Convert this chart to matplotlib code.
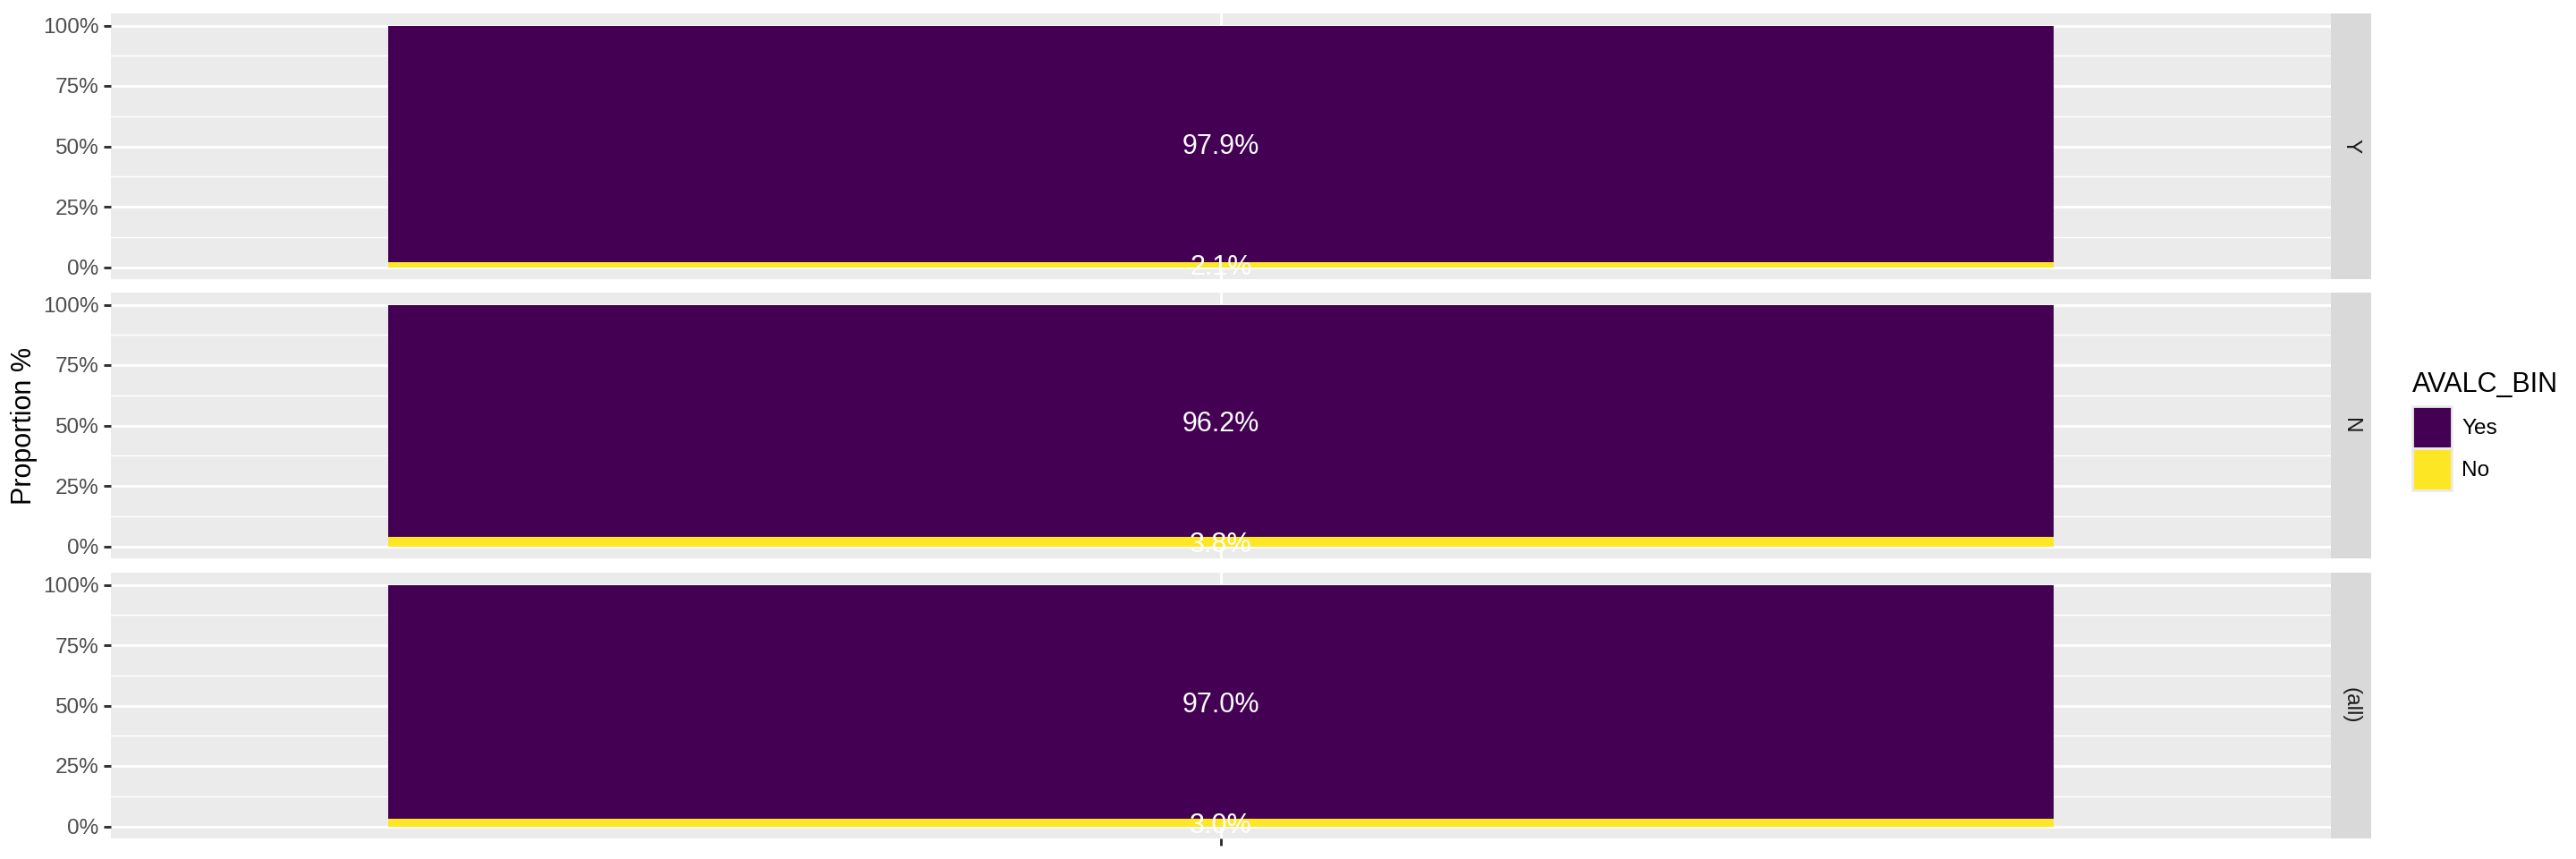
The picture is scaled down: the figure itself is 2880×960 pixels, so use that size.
import matplotlib
matplotlib.use("Agg")
import matplotlib.pyplot as plt
import numpy as np
from matplotlib.patches import Patch

plt.rcParams["font.family"] = ["Liberation Sans", "DejaVu Sans"]

# facet rows and stacked proportions (%)
facets = ["Y", "N", "(all)"]
yes_pct = [97.9, 96.2, 97.0]
no_pct = [2.1, 3.8, 3.0]
categories = [""]
legend_labels = ["Yes", "No"]
y_ticks = [0, 0.25, 0.5, 0.75, 1.0]
y_ticklabels = ["0%", "25%", "50%", "75%", "100%"]

YES_COL = "#440154"
NO_COL = "#FDE725"
PANEL_BG = "#EBEBEB"
STRIP_BG = "#D9D9D9"

W, H = 2880, 960
fig = plt.figure(figsize=(W / 200, H / 200), dpi=200)

# panel boxes in pixels (top, bottom)
panel_rows = [(15, 312), (327, 624), (640, 937)]
left_px, right_px = 124, 2606
strip_w = 45


def px_box(l, t, r, b):
    return [l / W, 1 - b / H, (r - l) / W, (b - t) / H]


x = np.arange(len(categories))
for i, (name, (top, bot)) in enumerate(zip(facets, panel_rows)):
    ax = fig.add_axes(px_box(left_px, top, right_px, bot))
    ax.set_facecolor(PANEL_BG)
    for s in ax.spines.values():
        s.set_visible(False)

    no = np.array([no_pct[i]]) / 100
    yes = np.array([yes_pct[i]]) / 100
    ax.bar(x, no, width=0.9, color=NO_COL, zorder=3)
    ax.bar(x, yes, bottom=no, width=0.9, color=YES_COL, zorder=3)

    ax.text(x[0], no[0] + yes[0] / 2, f"{yes_pct[i]:.1f}%", color="white",
            ha="center", va="center_baseline", fontsize=11, zorder=4)
    ax.text(x[0], no[0] / 2, f"{no_pct[i]:.1f}%", color="white",
            ha="center", va="center_baseline", fontsize=11, zorder=4)

    ax.set_xlim(-0.6, 0.6)
    ax.set_ylim(-0.05, 1.05)
    ax.set_yticks(y_ticks)
    ax.set_yticklabels(y_ticklabels)
    ax.set_yticks([0.125, 0.375, 0.625, 0.875], minor=True)
    ax.set_xticks(x)
    ax.set_xticklabels(categories)
    ax.grid(which="major", color="white", linewidth=1.07, zorder=0)
    ax.grid(which="minor", axis="y", color="white", linewidth=0.53, zorder=0)
    ax.set_axisbelow(True)
    ax.tick_params(axis="y", which="major", length=2.75, width=1.07,
                   color="#333333", labelcolor="#4D4D4D", labelsize=8.8,
                   pad=2.2)
    ax.tick_params(which="minor", length=0)
    if i < len(facets) - 1:
        ax.tick_params(axis="x", length=0, labelbottom=False)
    else:
        ax.tick_params(axis="x", length=2.75, width=1.07, color="#333333",
                       labelsize=8.8)

    sax = fig.add_axes(px_box(right_px, top, right_px + strip_w, bot))
    sax.set_facecolor(STRIP_BG)
    sax.set_xticks([])
    sax.set_yticks([])
    for s in sax.spines.values():
        s.set_visible(False)
    sax.text(0.5, 0.5, name, rotation=-90, ha="center", va="center",
             fontsize=8.8, color="#1A1A1A", transform=sax.transAxes)

fig.text(27 / W, 1 - 476 / H, "Proportion %", rotation=90, ha="center",
         va="center", fontsize=11, color="black")

handles = [Patch(facecolor=YES_COL, edgecolor=PANEL_BG, linewidth=1.0),
           Patch(facecolor=NO_COL, edgecolor=PANEL_BG, linewidth=1.0)]
leg = fig.legend(handles, legend_labels, title="AVALC_BIN",
                 loc="upper left", bbox_to_anchor=(2685 / W, 1 - 403 / H),
                 frameon=False, fontsize=8.8, title_fontsize=11,
                 handlelength=1.8, handleheight=2.6, handletextpad=0.45,
                 labelspacing=0.0, alignment="left", borderpad=0)
# gap between legend title and keys
leg._legend_box.sep = 3.0

fig.savefig("out.png", dpi=200)
